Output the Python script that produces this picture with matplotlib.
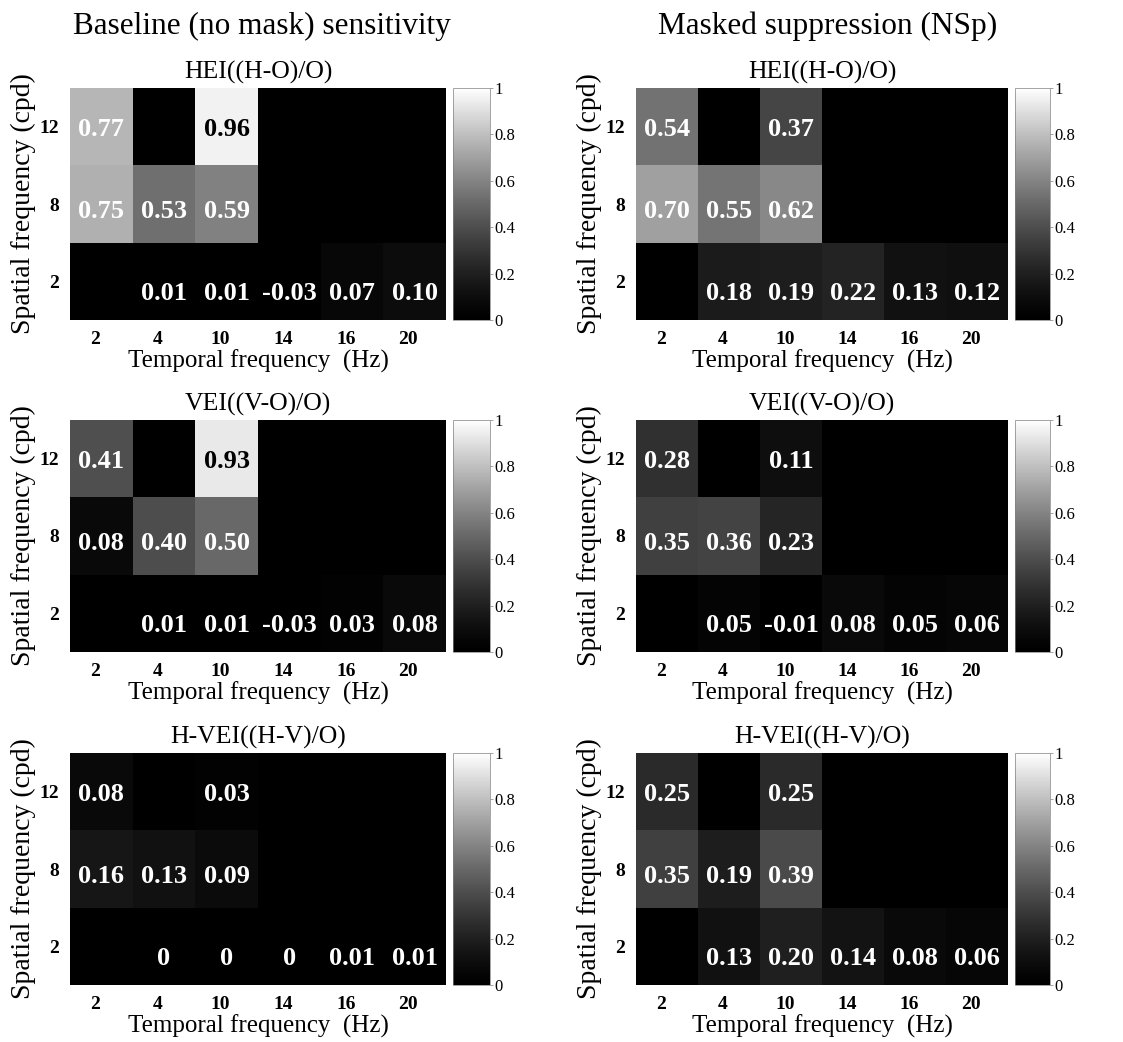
import numpy as np
import matplotlib
matplotlib.use('Agg')
import matplotlib.pyplot as plt
from matplotlib.colors import LinearSegmentedColormap

plt.rcParams['font.family'] = ['Liberation Serif', 'DejaVu Serif']

nan = np.nan
temporal = ['2', '4', '10', '14', '16', '20']
spatial = ['12', '8', '2']

# rows: 12, 8, 2 cpd ; cols: 2, 4, 10, 14, 16, 20 Hz
base_hei = [[0.77, nan, 0.96, nan, nan, nan],
            [0.75, 0.53, 0.59, nan, nan, nan],
            [nan, 0.01, 0.01, -0.03, 0.07, 0.10]]
base_vei = [[0.41, nan, 0.93, nan, nan, nan],
            [0.08, 0.40, 0.50, nan, nan, nan],
            [nan, 0.01, 0.01, -0.03, 0.03, 0.08]]
base_hvei = [[0.08, nan, 0.03, nan, nan, nan],
             [0.16, 0.13, 0.09, nan, nan, nan],
             [nan, 0.0, 0.0, 0.0, 0.01, 0.01]]
mask_hei = [[0.54, nan, 0.37, nan, nan, nan],
            [0.70, 0.55, 0.62, nan, nan, nan],
            [nan, 0.18, 0.19, 0.22, 0.13, 0.12]]
mask_vei = [[0.28, nan, 0.11, nan, nan, nan],
            [0.35, 0.36, 0.23, nan, nan, nan],
            [nan, 0.05, -0.01, 0.08, 0.05, 0.06]]
mask_hvei = [[0.25, nan, 0.25, nan, nan, nan],
             [0.35, 0.19, 0.39, nan, nan, nan],
             [nan, 0.13, 0.20, 0.14, 0.08, 0.06]]

titles = ['HEI((H-O)/O)', 'VEI((V-O)/O)', 'H-VEI((H-V)/O)']
col_titles = ['Baseline (no mask) sensitivity', 'Masked suppression (NSp)']
panels = [[base_hei, base_vei, base_hvei], [mask_hei, mask_vei, mask_hvei]]

# slightly darker gray ramp, like the scanned figure
cmap = LinearSegmentedColormap.from_list('g', ['black', 'white'], N=256, gamma=1.3)
cmap.set_bad('black')

fig = plt.figure(figsize=(11.23, 10.42), dpi=100)

W, H = 1123.0, 1042.0
row_top = [88, 420, 753]
ax_h = 232
col_ax = [(70, 376), (636, 372)]
col_cb = [(453, 37), (1015, 35)]
col_mid = [262, 828]

for c in range(2):
    fig.text(col_mid[c] / W, 1 - 26 / H, col_titles[c], ha='center', va='center', fontsize=22.5)
    for r in range(3):
        data = np.array(panels[c][r], dtype=float)
        bottom = 1 - (row_top[r] + ax_h) / H
        ax = fig.add_axes([col_ax[c][0] / W, bottom, col_ax[c][1] / W, ax_h / H])
        im = ax.imshow(np.ma.masked_invalid(data), cmap=cmap, vmin=0, vmax=1,
                       aspect='auto', interpolation='nearest')
        for i in range(data.shape[0]):
            for j in range(data.shape[1]):
                v = data[i, j]
                if np.isnan(v):
                    continue
                txt = '0' if v == 0 else '%.2f' % v
                col = 'black' if v > 0.9 else 'white'
                ax.text(j, i + 0.04 + 0.06 * i, txt, ha='center', va='center',
                        color=col, fontsize=19, fontweight='bold')
        ax.set_xticks(np.arange(len(temporal)) - 0.1)
        ax.set_xticklabels(temporal, fontweight='bold', fontsize=14)
        ax.set_yticks(np.arange(len(spatial)))
        ax.set_yticklabels(spatial, fontweight='bold', fontsize=14)
        ax.tick_params(length=0, pad=8)
        ax.set_xlim(-0.5, 5.5)
        for s in ax.spines.values():
            s.set_visible(False)
        ax.set_title(titles[r], fontsize=18.5, pad=7)
        ax.set_xlabel('Temporal frequency  (Hz)', fontsize=18, labelpad=1)
        ax.set_ylabel('Spatial frequency (cpd)', fontsize=20, labelpad=2)

        cax = fig.add_axes([col_cb[c][0] / W, bottom, col_cb[c][1] / W, ax_h / H])
        cb = fig.colorbar(im, cax=cax, ticks=[0, 0.2, 0.4, 0.6, 0.8, 1])
        cb.ax.set_yticklabels(['0', '0.2', '0.4', '0.6', '0.8', '1'])
        cb.ax.tick_params(labelsize=12, length=2, width=0.5, color='gray', pad=1.5)
        cb.outline.set_linewidth(0.5)
        cb.outline.set_edgecolor('gray')

fig.savefig('out.png', dpi=100)
